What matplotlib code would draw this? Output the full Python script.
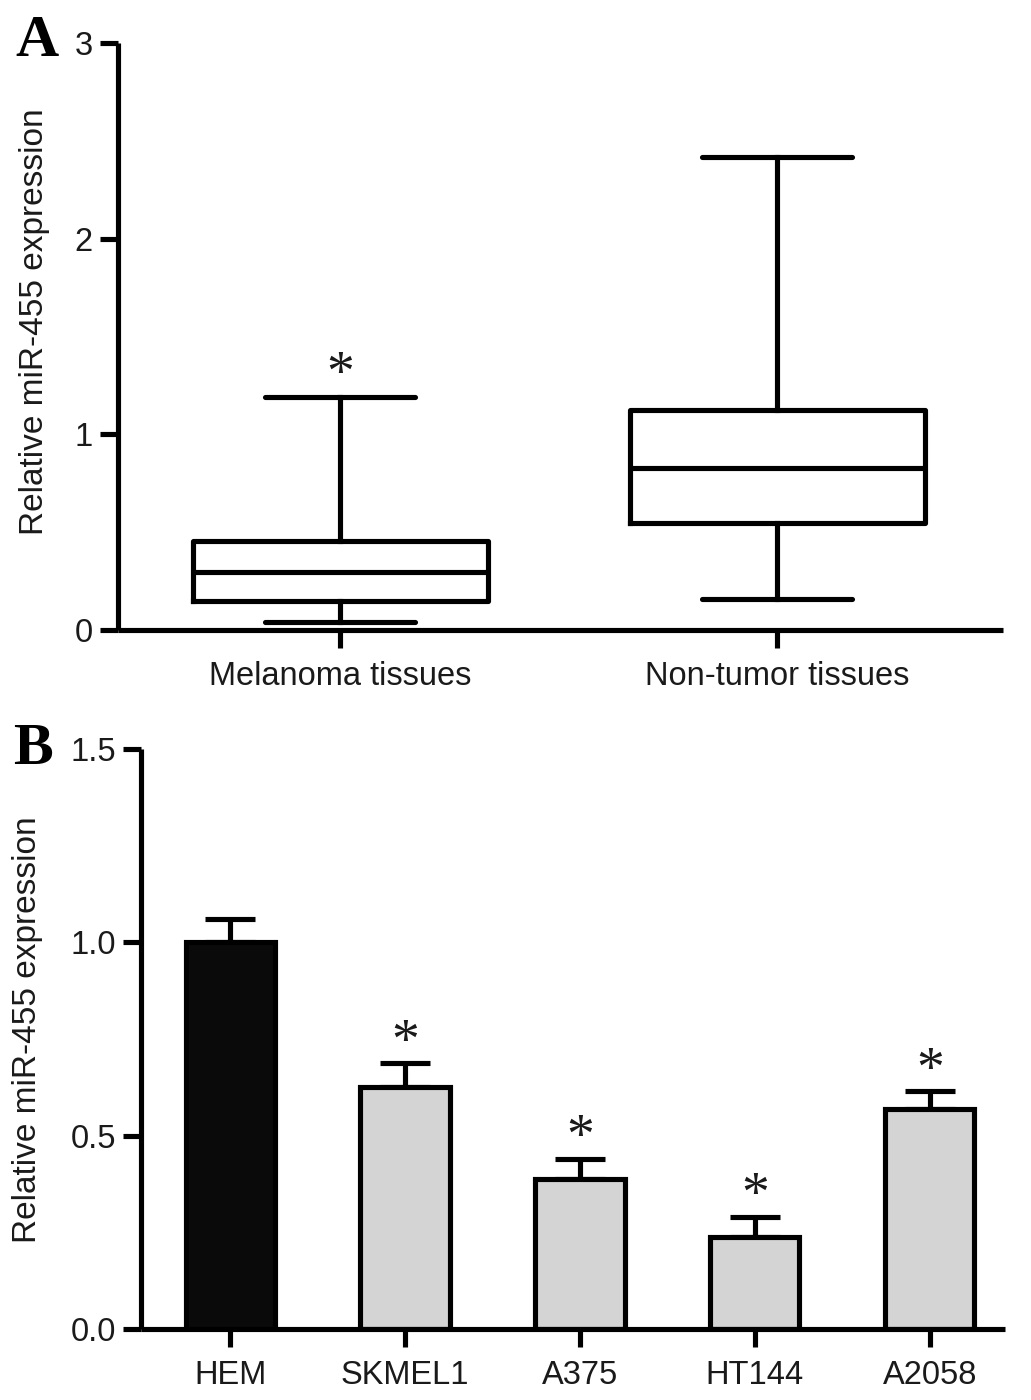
import matplotlib
matplotlib.use("Agg")
import matplotlib.pyplot as plt
import numpy as np

# ---------------- data ----------------
# Panel A: box plot summary (min, Q1, median, Q3, max)
groups_a = ["Melanoma tissues", "Non-tumor tissues"]
whislo_a = [0.04, 0.16]
q1_a = [0.15, 0.546]
median_a = [0.297, 0.827]
q3_a = [0.457, 1.122]
whishi_a = [1.19, 2.418]
sig_a = ["*", ""]
yticks_a = [0, 1, 2, 3]

# Panel B: bar chart
cells_b = ["HEM", "SKMEL1", "A375", "HT144", "A2058"]
means_b = [1.0, 0.626, 0.388, 0.238, 0.569]
errs_b = [0.061, 0.061, 0.052, 0.052, 0.046]
sig_b = ["", "*", "*", "*", "*"]
yticks_b = [0.0, 0.5, 1.0, 1.5]
ytick_labels_b = ["0.0", "0.5", "1.0", "1.5"]

ylabel = "Relative miR-455 expression"

# ---------------- style ----------------
plt.rcParams["font.family"] = ["Liberation Sans", "DejaVu Sans"]
W, H = 1031, 1400
fig = plt.figure(figsize=(W / 100, H / 100), dpi=100)

LW = 3.7
TXT = "#1a1a1a"
FS = 23.5


def style_axes(ax):
    for s in ["top", "right"]:
        ax.spines[s].set_visible(False)
    for s in ["left", "bottom"]:
        ax.spines[s].set_linewidth(LW)
        ax.spines[s].set_capstyle("butt")
    ax.tick_params(axis="both", direction="out", length=13, width=LW,
                   labelsize=FS, colors="black", labelcolor=TXT)
    ax.tick_params(axis="y", pad=5)
    ax.tick_params(axis="x", pad=9)


# ---------------- Panel A ----------------
axA = fig.add_axes([118 / W, 1 - 630 / H, (1003 - 118) / W, (630 - 43) / H])
stats = []
for i in range(len(groups_a)):
    stats.append(dict(med=median_a[i], q1=q1_a[i], q3=q3_a[i],
                      whislo=whislo_a[i], whishi=whishi_a[i], fliers=[],
                      label=groups_a[i]))
pos_a = np.arange(len(groups_a))
axA.bxp(stats, positions=pos_a, widths=0.675, showfliers=False,
        boxprops=dict(color="black", linewidth=LW),
        medianprops=dict(color="black", linewidth=LW, solid_capstyle="butt"),
        whiskerprops=dict(color="black", linewidth=LW),
        capprops=dict(color="black", linewidth=LW, solid_capstyle="round"),
        capwidths=0.343, manage_ticks=False)
axA.set_xlim(-0.508, 1.517)
axA.set_ylim(0, 3)
axA.set_xticks(pos_a)
axA.set_xticklabels(groups_a)
axA.set_yticks(yticks_a)
style_axes(axA)
for i, s in enumerate(sig_a):
    if s:
        axA.annotate(s, xy=(pos_a[i], whishi_a[i]), xytext=(0, 15),
                     textcoords="offset points", ha="center", va="center",
                     fontsize=40, family=["Liberation Serif"], color=TXT)

fig.text(35 / W, 1 - 322 / H, ylabel, rotation=90, ha="center", va="center",
         fontsize=24, color=TXT)
fig.text(15 / W, 1 - 56 / H, "A", ha="left", va="baseline", fontsize=43,
         fontweight="bold", family=["Liberation Serif"], color="black")

# ---------------- Panel B ----------------
axB = fig.add_axes([141 / W, 1 - 1329 / H, (1005 - 141) / W, (1329 - 749) / H])
pos_b = np.arange(len(cells_b))
colors_b = ["#0a0a0a"] + ["#d4d4d4"] * (len(cells_b) - 1)
axB.errorbar(pos_b, means_b, yerr=[np.zeros(len(errs_b)), errs_b], fmt="none",
             ecolor="black", elinewidth=LW, capsize=18, capthick=LW, zorder=1)
axB.bar(pos_b, means_b, width=0.51, color=colors_b, edgecolor="black",
        linewidth=LW, zorder=2)
axB.set_xlim(-0.51, 4.43)
axB.set_ylim(0, 1.5)
axB.set_xticks(pos_b)
axB.set_xticklabels(cells_b)
axB.set_yticks(yticks_b)
axB.set_yticklabels(ytick_labels_b)
style_axes(axB)
for i, s in enumerate(sig_b):
    if s:
        axB.annotate(s, xy=(pos_b[i], means_b[i] + errs_b[i]), xytext=(0, 14),
                     textcoords="offset points", ha="center", va="center",
                     fontsize=40, family=["Liberation Serif"], color=TXT)

fig.text(28 / W, 1 - 1030 / H, ylabel, rotation=90, ha="center", va="center",
         fontsize=24, color=TXT)
fig.text(13 / W, 1 - 764 / H, "B", ha="left", va="baseline", fontsize=43,
         fontweight="bold", family=["Liberation Serif"], color="black")

fig.savefig("out.png", dpi=100, facecolor="white")
